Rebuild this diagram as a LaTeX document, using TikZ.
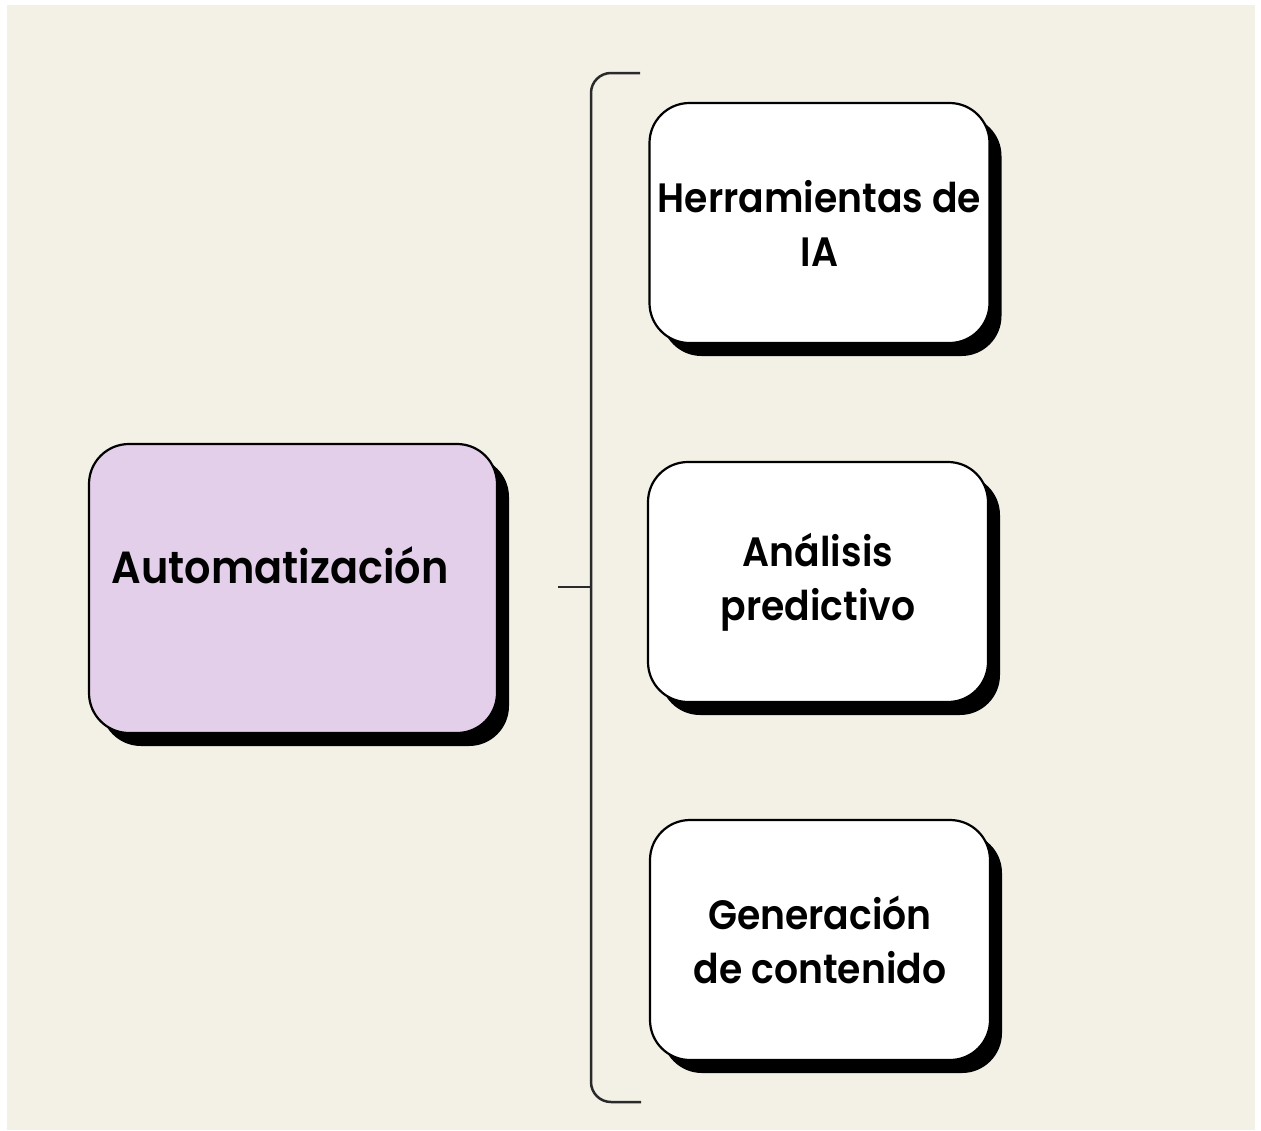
\documentclass[tikz,border=0pt]{standalone}
\usepackage{fontspec}
\setmainfont{Poppins}
\newfontfamily\popsb{Poppins SemiBold}[FakeStretch=0.92]
\usetikzlibrary{shadows}
\definecolor{cream}{HTML}{F3F1E6}
\definecolor{lilac}{HTML}{E3CFEA}
\definecolor{brk}{HTML}{2A2A2A}
\begin{document}
\begin{tikzpicture}[x=1pt,y=-1pt,
  boxbase/.style={draw=black, line width=2.2pt, rounded corners=40pt,
    drop shadow={shadow xshift=12pt, shadow yshift=-13pt, fill=black, opacity=1},
    align=center, inner sep=0pt},
  itembox/.style={boxbase, fill=white, minimum width=340pt, minimum height=240pt,
    font=\popsb\fontsize{41}{54}\selectfont},
  mainbox/.style={boxbase, fill=lilac, minimum width=408pt, minimum height=289pt},
  maintext/.style={font=\popsb\fontsize{45}{54}\selectfont, inner sep=0pt},
  bracketline/.style={draw=brk, line width=2.5pt, rounded corners=20pt}
]
\fill[white] (0,0) rectangle (1261,1130);
\useasboundingbox (0,0) rectangle (1261,1130);
\fill[cream] (7,5) rectangle (1255,1130);

\node[mainbox] (auto) at (293,588.5) {};
\node[maintext, anchor=base] (autolabel) at (280,583) {Automatización};

\node[itembox] (ia) at (819.5,223) {Herramientas de\\IA};
\node[itembox] (ap) at (818,582) {Análisis\\predictivo};
\node[itembox] (gc) at (820,940) {Generación\\de contenido};

\coordinate (btop) at (640,73);
\coordinate (bbot) at (641,1102);
\coordinate (bmid) at (591,587);
\coordinate (stub) at (558,587);
\draw[bracketline] (btop) -- (591,73) -- (591,1102) -- (bbot);
\draw[draw=brk, line width=2.5pt] (stub) -- (bmid);
\end{tikzpicture}
\end{document}
